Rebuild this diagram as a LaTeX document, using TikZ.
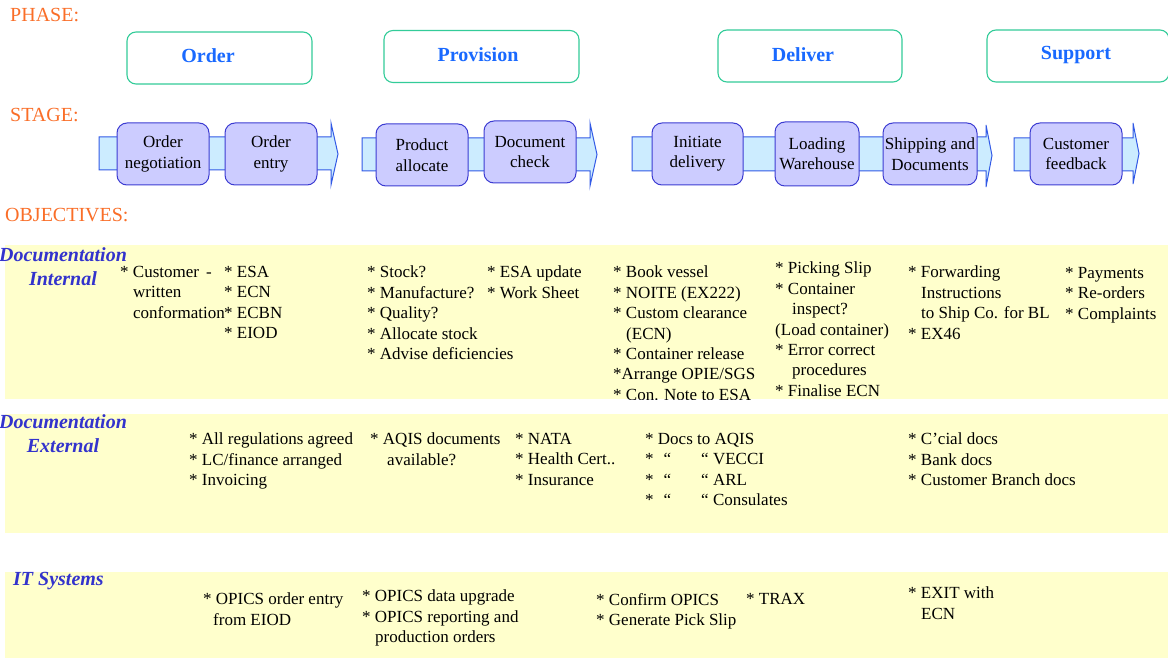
\documentclass[tikz,border=0pt]{standalone}
\usepackage{fontspec}
\setmainfont{Liberation Serif}
\definecolor{headorange}{RGB}{250,110,40}
\definecolor{phaseteal}{RGB}{51,204,153}
\definecolor{phaseblue}{RGB}{25,105,255}
\definecolor{stagefill}{RGB}{204,204,255}
\definecolor{stageline}{RGB}{60,60,210}
\definecolor{bandfill}{RGB}{204,236,255}
\definecolor{bandline}{RGB}{50,90,230}
\definecolor{notefill}{RGB}{255,255,204}
\definecolor{rowblue}{RGB}{51,51,204}
\newcommand\bodyfont{\fontsize{17}{20.4}\selectfont}
\newcommand\ind{\hspace*{13pt}}
\begin{document}
\begin{tikzpicture}[x=1pt,y=-1pt,
  heading/.style={anchor=west,inner sep=0,text=headorange,font=\fontsize{20}{24}\selectfont},
  phasebox/.style={draw=phaseteal,line width=1.1pt,fill=white,rounded corners=9pt},
  phaselabel/.style={inner sep=0,text=phaseblue,font=\fontsize{20}{24}\selectfont\bfseries},
  stagebox/.style={draw=stageline,line width=1pt,fill=stagefill,rounded corners=10pt,
    inner sep=0,align=center,font=\bodyfont},
  flow/.style={draw=bandline,line width=1pt,fill=bandfill,line join=miter},
  rowlabel/.style={inner sep=0,align=center,text=rowblue,
    font=\fontsize{20}{24}\selectfont\bfseries\itshape},
  note/.style={anchor=north west,inner sep=0,align=left,font=\bodyfont},
]
\useasboundingbox (0,0) rectangle (1168,658);
\fill[white] (0,0) rectangle (1168,658);

% ---------- headings ----------
\node[heading] (hphase) at (10,15) {PHASE:};
\node[heading] (hstage) at (10,115) {STAGE:};
\node[heading] (hobj) at (5,215) {OBJECTIVES:};

% ---------- phases ----------
\node[phasebox,minimum width=185pt,minimum height=52pt] (order) at (219.5,58) {};
\node[phasebox,minimum width=195pt,minimum height=52pt] (provision) at (481.5,56.5) {};
\node[phasebox,minimum width=184pt,minimum height=52pt] (deliver) at (810,56) {};
\node[phasebox,minimum width=182pt,minimum height=52pt] (support) at (1078,56) {};
\node[phaselabel] (lorder) at (208,56) {Order};
\node[phaselabel] (lprovision) at (478,55) {Provision};
\node[phaselabel] (ldeliver) at (803,55) {Deliver};
\node[phaselabel] (lsupport) at (1076,55) {Support};

% ---------- stage flow bands ----------
\draw[flow] (99,137) -- (331,137) -- (331,123) -- (338,154) -- (331,185) -- (331,170) -- (99,170) -- cycle;
\draw[flow] (362,138) -- (590,138) -- (590,123) -- (597,154.5) -- (590,186) -- (590,171) -- (362,171) -- cycle;
\draw[flow] (632,137) -- (986,137) -- (986,125) -- (992,155.5) -- (986,187) -- (986,171) -- (632,171) -- cycle;
\draw[flow] (1014,138) -- (1133,138) -- (1133,123) -- (1139,153.5) -- (1133,184) -- (1133,171) -- (1014,171) -- cycle;

% ---------- stages ----------
\node[stagebox,minimum width=92pt,minimum height=62pt] (negotiation) at (163,154) {Order\\negotiation};
\node[stagebox,minimum width=92pt,minimum height=62pt] (entry) at (271,154) {Order\\entry};
\node[stagebox,minimum width=92pt,minimum height=62pt] (allocate) at (422,155) {Product\\allocate};
\node[stagebox,minimum width=92pt,minimum height=62pt] (doccheck) at (530,152) {Document\\check};
\node[stagebox,minimum width=91pt,minimum height=62pt] (initiate) at (697.5,154) {Initiate\\delivery};
\node[stagebox,minimum width=84pt,minimum height=64pt] (loading) at (817,154) {Loading\\Warehouse};
\node[stagebox,minimum width=94pt,minimum height=62pt] (shipping) at (930,154) {Shipping and\\Documents};
\node[stagebox,minimum width=92pt,minimum height=62pt] (feedback) at (1076,154) {Customer\\feedback};

% ---------- objective bands ----------
\fill[notefill] (5,245) rectangle (1168,399);
\fill[notefill] (5,414) rectangle (1168,533);
\fill[notefill] (5,572) rectangle (1168,658);

% documentation, internal
\node[rowlabel] (rinternal) at (63,267) {Documentation\\Internal};
\begin{scope}
\clip (0,245) rectangle (1168,399.5);
\node[note] (i1) at (120,266) {* Customer\hspace{7pt}-\\\ind written\\\ind conformation};
\node[note] (i2) at (224,266) {* ESA\\* ECN\\* ECBN\\* EIOD};
\node[note] (i3) at (367,266) {* Stock?\\* Manufacture?\\* Quality?\\* Allocate stock\\* Advise deficiencies};
\node[note] (i4) at (487,266) {* ESA update\\* Work Sheet};
\node[note] (i5) at (613,266) {* Book vessel\\* NOITE (EX222)\\* Custom clearance\\\ind(ECN)\\* Container release\\*Arrange OPIE/SGS\\* Con. Note to ESA};
\node[note] (i6) at (775,262) {* Picking Slip\\* Container\\\hspace*{17pt}inspect?\\(Load container)\\* Error correct\\\hspace*{17pt}procedures\\* Finalise ECN};
\node[note] (i7) at (908,266) {* Forwarding\\\ind Instructions\\\ind to Ship Co. for BL\\* EX46};
\node[note] (i8) at (1065,267) {* Payments\\* Re-orders\\* Complaints};
\end{scope}

% documentation, external
\node[rowlabel] (rexternal) at (63,434) {Documentation\\External};
\node[note] (e1) at (189,433) {* All regulations agreed\\* LC/finance arranged\\* Invoicing};
\node[note] (e2) at (370,433) {* AQIS documents\\\hspace*{17pt}available?};
\node[note] (e3) at (515,433) {* NATA\\* Health Cert..\\* Insurance};
\node[note] (e4) at (645,433) {* Docs to AQIS\\*\hspace{10pt}“\hspace{30pt}“ VECCI\\*\hspace{10pt}“\hspace{30pt}“ ARL\\*\hspace{10pt}“\hspace{30pt}“ Consulates};
\node[note] (e5) at (908,433) {* C’cial docs\\* Bank docs\\* Customer Branch docs};

% IT systems
\node[rowlabel,anchor=west] (rit) at (13,581) {IT Systems};
\node[note] (t1) at (203,593) {* OPICS order entry\\\hspace*{10pt}from EIOD};
\node[note] (t2) at (362,590) {* OPICS data upgrade\\* OPICS reporting and\\\ind production orders};
\node[note] (t3) at (596,593) {* Confirm OPICS\\* Generate Pick Slip};
\node[note] (t4) at (746,593) {* TRAX};
\node[note] (t5) at (908,587) {* EXIT with\\\ind ECN};
\end{tikzpicture}
\end{document}
